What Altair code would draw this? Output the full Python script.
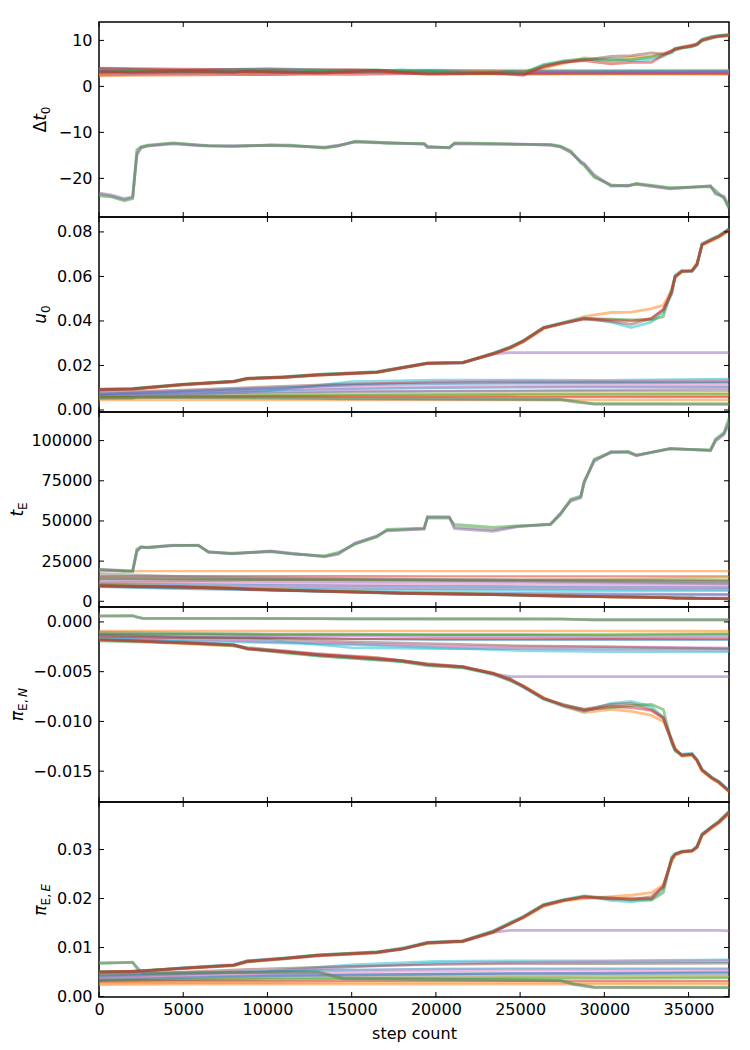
import altair as alt
import pandas as pd

# matplotlib tab10 colours
BLUE, ORANGE, GREEN, RED, PURPLE = "#1f77b4", "#ff7f0e", "#2ca02c", "#d62728", "#9467bd"
BROWN, PINK, GREY, OLIVE, CYAN = "#8c564b", "#e377c2", "#7f7f7f", "#bcbd22", "#17becf"

STEP_MAX = 37400
X_TICKS = [0, 5000, 10000, 15000, 20000, 25000, 30000, 35000]

# step grids the walkers were read on
FLAT_STEPS = [0, 5000, 10000, 15000, 20000, 25000, 30000, 37400]
CLUSTER_STEPS = [0, 2000, 5000, 8000, 8800, 11000, 13000, 16500, 18000, 19500,
                 21600, 23400, 24400, 25200, 26400, 27600, 28800, 30400, 31600, 32800,
                 33500, 34000, 34200, 34600, 35200, 35500, 35800, 36400, 36800, 37400]
STUCK_STEPS = [0, 700, 1500, 2000, 2250, 2500, 2900, 4400, 5900, 6500,
               7900, 10200, 11400, 13400, 14200, 15200, 16500, 17100, 19300, 19500,
               20800, 21100, 23400, 24800, 26800, 27400, 28000, 28600, 28800, 29400,
               30400, 31400, 31900, 33900, 36300, 36600, 37100, 37400]
STUCK_SHORT_STEPS = [0, 2000, 2300, 2600, 13000, 14500, 27400, 28200, 29400, 37400]

CLUSTER_COLORS = [PURPLE, ORANGE, CYAN, GREEN, BROWN, RED]

# ---------------- delta t0
DT0_TICKS = [-20, -10, 0, 10]
DT0_BG_COLORS = [BLUE, ORANGE, GREEN, RED, PURPLE, BROWN, PINK, GREY,
                 OLIVE, CYAN, BLUE, ORANGE, CYAN, PINK, PURPLE, RED]
DT0_BG = [
    [3.3, 3.1, 3.4, 3.2, 3.0, 3.2, 3.1, 3.2],
    [2.6, 2.8, 2.5, 2.9, 2.7, 2.6, 2.7, 2.8],
    [3.6, 3.4, 3.7, 3.3, 3.5, 3.3, 3.4, 3.3],
    [3.9, 3.5, 3.8, 3.4, 3.2, 3.0, 2.9, 3.0],
    [3.0, 3.2, 2.9, 3.1, 3.0, 3.1, 3.2, 3.0],
    [2.4, 2.7, 2.5, 3.0, 2.8, 2.9, 2.8, 2.9],
    [3.5, 3.3, 3.1, 3.4, 3.3, 3.4, 3.3, 3.2],
    [2.8, 3.0, 3.2, 2.9, 2.9, 2.7, 2.8, 2.9],
    [2.9, 3.1, 3.0, 3.2, 3.3, 3.6, 3.5, 3.6],
    [3.8, 3.6, 3.9, 3.5, 3.6, 3.2, 3.3, 3.4],
    [3.1, 3.3, 3.2, 3.0, 3.1, 3.0, 3.1, 3.1],
    [2.3, 2.4, 2.6, 2.5, 2.8, 2.8, 2.7, 2.6],
    [3.2, 3.5, 3.3, 3.6, 3.4, 3.1, 3.2, 3.3],
    [2.7, 2.5, 2.8, 2.6, 2.9, 3.0, 3.1, 3.0],
    [3.4, 3.6, 3.5, 3.3, 3.2, 3.3, 3.2, 3.3],
    [4.0, 3.8, 3.6, 3.7, 3.1, 2.8, 2.9, 2.8],
]
DT0_CLUSTER = [
    [3.1, 3.2, 3.0, 3.3, 3.2, 3.0, 3.1, 3.2, 2.9, 3.0, 3.1, 3.0, 3.0, 3.1, 3.0,
     3.1, 3.0, 3.0, 3.1, 3.0, 3.0, 3.1, 3.0, 3.0, 3.1, 3.0, 3.0, 3.0, 3.1, 3.0],
    [2.8, 3.3, 3.1, 3.5, 2.9, 3.4, 3.2, 3.1, 3.3, 3.0, 3.2, 3.3, 3.0, 3.1, 4.0,
     5.0, 6.2, 5.8, 6.3, 6.6, 7.2, 7.6, 8.0, 8.6, 9.0, 9.2, 10.2, 10.8, 11.0, 11.2],
    [3.6, 3.2, 3.0, 3.3, 3.6, 3.3, 3.5, 3.2, 3.6, 3.1, 2.9, 3.1, 2.8, 2.9, 4.8,
     5.4, 5.8, 6.0, 5.6, 5.9, 6.5, 7.5, 8.3, 8.5, 8.6, 9.2, 10.3, 10.9, 11.1, 11.3],
    [3.0, 3.5, 3.3, 3.1, 3.4, 3.0, 3.3, 3.6, 3.2, 3.3, 3.0, 2.8, 3.2, 3.0, 4.6,
     5.6, 6.0, 5.5, 5.8, 6.4, 6.9, 7.3, 7.9, 8.3, 8.7, 9.1, 9.9, 10.5, 10.9, 11.1],
    [3.4, 3.1, 3.2, 3.4, 3.1, 3.2, 2.9, 3.3, 3.1, 2.8, 2.9, 3.0, 2.9, 2.7, 4.2,
     5.3, 5.7, 6.5, 6.7, 7.3, 7.0, 7.7, 8.2, 8.5, 8.9, 9.3, 10.1, 10.7, 11.0, 11.2],
    [3.2, 3.0, 3.4, 3.0, 3.3, 3.1, 3.0, 3.4, 3.0, 2.6, 2.7, 2.9, 2.6, 2.4, 4.4,
     5.2, 5.6, 4.9, 5.2, 5.2, 6.8, 7.8, 8.1, 8.4, 8.8, 9.0, 10.0, 10.6, 10.8, 11.0],
]
DT0_STUCK_COLORS = [PURPLE, GREEN, GREY]
DT0_STUCK = [
    [-23.2, -23.6, -24.4, -24.0, -15.0, -13.4, -13.0, -12.5, -12.9, -13.0,
     -12.9, -12.9, -13.0, -13.2, -12.8, -12.1, -12.3, -12.2, -12.6, -13.3,
     -13.2, -12.5, -12.6, -12.5, -12.8, -13.2, -14.4, -16.3, -16.8, -19.2,
     -21.7, -21.5, -21.3, -22.3, -21.6, -23.4, -23.9, -26.0],
    [-23.8, -24.0, -24.9, -24.4, -13.8, -13.1, -12.8, -12.3, -12.7, -12.9,
     -13.1, -12.7, -12.8, -13.4, -13.0, -11.9, -12.1, -12.4, -12.4, -13.0,
     -13.4, -12.3, -12.4, -12.6, -12.6, -13.0, -14.0, -16.6, -17.2, -19.8,
     -21.4, -21.7, -21.1, -22.0, -21.8, -22.6, -24.4, -26.6],
    [-23.4, -23.8, -24.6, -24.1, -14.5, -13.3, -12.9, -12.4, -12.8, -12.9,
     -13.0, -12.8, -12.9, -13.3, -12.9, -12.0, -12.2, -12.3, -12.5, -13.2,
     -13.3, -12.4, -12.5, -12.6, -12.7, -13.1, -14.2, -16.5, -16.9, -19.5,
     -21.6, -21.6, -21.2, -22.2, -21.7, -23.2, -24.1, -26.3],
]

# ---------------- u0
U0_TICKS = [0.0, 0.02, 0.04, 0.06, 0.08]
U0_BG_COLORS = [CYAN, PINK, BROWN, BLUE, PINK, PURPLE, GREY, OLIVE, GREEN, ORANGE, RED, ORANGE, BLUE]
U0_BG = [
    [0.0062, 0.0068, 0.0085, 0.0128, 0.0135, 0.0135, 0.0134, 0.0139],
    [0.0070, 0.0080, 0.0095, 0.0115, 0.0128, 0.0132, 0.0131, 0.0134],
    [0.0080, 0.0090, 0.0105, 0.0118, 0.0124, 0.0126, 0.0126, 0.0127],
    [0.0068, 0.0078, 0.0088, 0.0095, 0.0100, 0.0102, 0.0103, 0.0104],
    [0.0075, 0.0085, 0.0095, 0.0102, 0.0106, 0.0108, 0.0110, 0.0112],
    [0.0065, 0.0072, 0.0080, 0.0084, 0.0086, 0.0087, 0.0090, 0.0095],
    [0.0060, 0.0068, 0.0074, 0.0080, 0.0083, 0.0084, 0.0085, 0.0086],
    [0.0058, 0.0062, 0.0066, 0.0070, 0.0072, 0.0073, 0.0074, 0.0076],
    [0.0055, 0.0060, 0.0064, 0.0067, 0.0069, 0.0070, 0.0070, 0.0071],
    [0.0052, 0.0056, 0.0059, 0.0061, 0.0062, 0.0063, 0.0063, 0.0063],
    [0.0058, 0.0060, 0.0061, 0.0060, 0.0059, 0.0058, 0.0058, 0.0058],
    [0.0045, 0.0045, 0.0045, 0.0045, 0.0045, 0.0045, 0.0045, 0.0045],
    [0.0072, 0.0085, 0.0098, 0.0112, 0.0118, 0.0120, 0.0121, 0.0123],
]
U0_CLUSTER = [
    [0.0091, 0.0094, 0.0114, 0.0127, 0.0141, 0.0147, 0.0157, 0.0169, 0.0189, 0.0209,
     0.0212, 0.0252, 0.0258, 0.0258, 0.0258, 0.0258, 0.0258, 0.0258, 0.0258, 0.0258,
     0.0258, 0.0258, 0.0258, 0.0258, 0.0258, 0.0258, 0.0258, 0.0258, 0.0258, 0.0258],
    [0.0088, 0.0094, 0.0112, 0.0126, 0.0138, 0.0146, 0.0156, 0.0168, 0.0188, 0.0208,
     0.0215, 0.0250, 0.0276, 0.0305, 0.0365, 0.0392, 0.0420, 0.0438, 0.0440, 0.0455,
     0.0470, 0.0540, 0.0595, 0.0620, 0.0628, 0.0660, 0.0740, 0.0760, 0.0776, 0.0805],
    [0.0090, 0.0096, 0.0114, 0.0130, 0.0140, 0.0150, 0.0160, 0.0172, 0.0192, 0.0212,
     0.0212, 0.0256, 0.0284, 0.0312, 0.0372, 0.0395, 0.0415, 0.0395, 0.0370, 0.0395,
     0.0440, 0.0520, 0.0605, 0.0628, 0.0622, 0.0650, 0.0748, 0.0770, 0.0784, 0.0815],
    [0.0094, 0.0097, 0.0116, 0.0130, 0.0143, 0.0149, 0.0160, 0.0171, 0.0191, 0.0211,
     0.0214, 0.0254, 0.0282, 0.0312, 0.0370, 0.0392, 0.0412, 0.0408, 0.0405, 0.0405,
     0.0420, 0.0545, 0.0600, 0.0622, 0.0626, 0.0656, 0.0742, 0.0768, 0.0782, 0.0812],
    [0.0091, 0.0094, 0.0114, 0.0127, 0.0141, 0.0147, 0.0157, 0.0169, 0.0189, 0.0209,
     0.0212, 0.0252, 0.0279, 0.0309, 0.0368, 0.0389, 0.0408, 0.0398, 0.0385, 0.0412,
     0.0452, 0.0528, 0.0598, 0.0623, 0.0624, 0.0652, 0.0745, 0.0765, 0.0779, 0.0809],
    [0.0092, 0.0095, 0.0115, 0.0128, 0.0142, 0.0148, 0.0158, 0.0170, 0.0190, 0.0210,
     0.0213, 0.0253, 0.0280, 0.0310, 0.0370, 0.0390, 0.0410, 0.0405, 0.0400, 0.0410,
     0.0450, 0.0530, 0.0600, 0.0624, 0.0625, 0.0654, 0.0744, 0.0766, 0.0780, 0.0811],
]
U0_STUCK_COLORS = [GREEN, GREY]
U0_STUCK = [
    [0.0055, 0.0055, 0.0058, 0.0058, 0.0054, 0.0052, 0.0048, 0.0040, 0.0028, 0.0027],
    [0.0052, 0.0053, 0.0057, 0.0057, 0.0052, 0.0050, 0.0046, 0.0036, 0.0027, 0.0026],
]

# ---------------- tE
TE_TICKS = [0, 25000, 50000, 75000, 100000]
TE_BG_COLORS = [ORANGE, RED, OLIVE, GREY, PURPLE, PINK, BLUE, CYAN, GREEN, BROWN, CYAN, BLUE, PINK, GREY]
TE_BG = [
    [18800, 18800, 18800, 18800, 18800, 18800, 18800, 18800],
    [15500, 15600, 15700, 15600, 15500, 15500, 15500, 15500],
    [11500, 12500, 13500, 13800, 13600, 13400, 13600, 15000],
    [15800, 15200, 14400, 13800, 13100, 12600, 12000, 11000],
    [13000, 12800, 12500, 12200, 12000, 11600, 11200, 10800],
    [12000, 11600, 11200, 10800, 10500, 10100, 9800, 9500],
    [11000, 10500, 10000, 9600, 9300, 9000, 8700, 8400],
    [10500, 9200, 8400, 8000, 7800, 7600, 7400, 7300],
    [14500, 14000, 13500, 13200, 13000, 12800, 12600, 12500],
    [14000, 13800, 13600, 13500, 13500, 13400, 13400, 13300],
    [9500, 8500, 7800, 7200, 6900, 6700, 6600, 6500],
    [9000, 7800, 6800, 6000, 5400, 5000, 4700, 4400],
    [10000, 9500, 9000, 8600, 8300, 8000, 7800, 7600],
    [17300, 15500, 14800, 14200, 13700, 13200, 12800, 12200],
]
TE_CLUSTER = [
    [9700, 9200, 8800, 8000, 7600, 6900, 6400, 5400, 5000, 4800, 4500, 4200, 4000, 4000, 4000,
     3950, 3950, 3900, 3900, 3900, 3900, 3900, 3900, 3900, 3900, 3850, 3850, 3850, 3850, 3850],
    [10200, 9700, 9200, 8300, 7900, 7200, 6600, 5700, 5300, 5000, 4700, 4400, 4200, 4000, 3600,
     3400, 3000, 2700, 2600, 2400, 2300, 2100, 2000, 1950, 1900, 1850, 1800, 1750, 1700, 1650],
    [9400, 9000, 8600, 7800, 7400, 6700, 6200, 5300, 4900, 4600, 4400, 4100, 3900, 3700, 3400,
     3200, 3100, 2900, 2800, 2500, 2350, 2150, 2050, 2000, 1950, 1900, 1800, 1750, 1700, 1650],
    [10000, 9500, 9000, 8100, 7700, 7000, 6500, 5500, 5100, 4900, 4600, 4300, 4100, 3900, 3500,
     3300, 3100, 2800, 2700, 2500, 2300, 2100, 2050, 2000, 1900, 1850, 1800, 1750, 1700, 1650],
    [9600, 9200, 8800, 7900, 7500, 6800, 6300, 5350, 4950, 4700, 4450, 4150, 3950, 3750, 3450,
     3250, 3050, 2750, 2600, 2400, 2250, 2100, 2000, 1950, 1900, 1850, 1750, 1700, 1650, 1600],
    [9800, 9300, 8900, 8000, 7600, 6900, 6400, 5400, 5000, 4800, 4500, 4200, 4000, 3800, 3500,
     3300, 3100, 2800, 2600, 2400, 2300, 2100, 2050, 2000, 1900, 1850, 1800, 1750, 1700, 1650],
]
TE_STUCK_COLORS = [PURPLE, GREEN, GREY]
TE_STUCK = [
    [19500, 19600, 19200, 19000, 30800, 33600, 33700, 35000, 34700, 30900,
     29500, 31300, 29900, 27700, 29400, 36200, 40800, 43900, 44900, 52700,
     52600, 45200, 43600, 46300, 48100, 55000, 62300, 64400, 74800, 87200,
     93100, 92700, 90600, 95200, 93700, 99600, 103800, 110500],
    [19900, 19300, 18700, 18600, 32500, 33900, 33200, 34600, 34900, 30500,
     29900, 30900, 29500, 28300, 30400, 35500, 40100, 44700, 45500, 51900,
     51800, 47800, 46000, 46900, 47700, 54000, 63500, 65500, 73500, 88500,
     92500, 93200, 91000, 94800, 94200, 101000, 104900, 114000],
    [19700, 19400, 19000, 18800, 31700, 33800, 33500, 34800, 34800, 30700,
     29700, 31100, 29700, 28000, 29700, 35900, 40500, 44200, 45200, 52400,
     52400, 46200, 44500, 46600, 47900, 54500, 62800, 64900, 74200, 87700,
     92900, 92900, 90800, 95000, 93900, 100100, 104300, 111500],
]

# ---------------- pi_E,N
PEN_TICKS = [0.0, -0.005, -0.010, -0.015]
PEN_BG_COLORS = [ORANGE, OLIVE, GREY, PURPLE, BLUE, PINK, CYAN, PINK, GREEN, RED, CYAN, BROWN]
PEN_BG = [
    [-0.0009, -0.0009, -0.0009, -0.0009, -0.0009, -0.0009, -0.0009, -0.0009],
    [-0.0011, -0.0012, -0.0012, -0.0012, -0.0012, -0.0012, -0.0012, -0.0011],
    [-0.0010, -0.0011, -0.0012, -0.0012, -0.0013, -0.0013, -0.0014, -0.0013],
    [-0.0012, -0.0013, -0.0014, -0.0014, -0.0015, -0.0015, -0.0016, -0.0015],
    [-0.0013, -0.0015, -0.0016, -0.0017, -0.0018, -0.0018, -0.0018, -0.0018],
    [-0.0014, -0.0017, -0.0020, -0.0022, -0.0024, -0.0025, -0.0025, -0.0026],
    [-0.0015, -0.0016, -0.0018, -0.0026, -0.0027, -0.0027, -0.0027, -0.0027],
    [-0.0016, -0.0018, -0.0020, -0.0022, -0.0025, -0.0027, -0.0028, -0.0029],
    [-0.0012, -0.0012, -0.0013, -0.0013, -0.0013, -0.0013, -0.0013, -0.0012],
    [-0.0015, -0.0016, -0.0016, -0.0017, -0.0017, -0.0017, -0.0017, -0.0017],
    [-0.0017, -0.0019, -0.0021, -0.0023, -0.0026, -0.0029, -0.0030, -0.0030],
    [-0.0013, -0.0015, -0.0017, -0.0020, -0.0022, -0.0024, -0.0025, -0.0027],
]
PEN_CLUSTER = [
    [-0.0017, -0.0018, -0.0020, -0.0023, -0.0026, -0.0029, -0.0032, -0.0036, -0.0039, -0.0043,
     -0.0045, -0.0052, -0.0055, -0.0055, -0.0055, -0.0055, -0.0055, -0.0055, -0.0055, -0.0055,
     -0.0055, -0.0055, -0.0055, -0.0055, -0.0055, -0.0055, -0.0055, -0.0055, -0.0055, -0.0055],
    [-0.0017, -0.0019, -0.0022, -0.0024, -0.0026, -0.0029, -0.0033, -0.0036, -0.0040, -0.0044,
     -0.0046, -0.0051, -0.0059, -0.0064, -0.0076, -0.0085, -0.0091, -0.0088, -0.0090, -0.0094,
     -0.0100, -0.0118, -0.0127, -0.0135, -0.0134, -0.0140, -0.0150, -0.0158, -0.0162, -0.0171],
    [-0.0016, -0.0018, -0.0020, -0.0023, -0.0026, -0.0030, -0.0034, -0.0038, -0.0040, -0.0044,
     -0.0046, -0.0053, -0.0059, -0.0066, -0.0078, -0.0085, -0.0090, -0.0082, -0.0080, -0.0085,
     -0.0096, -0.0122, -0.0130, -0.0133, -0.0132, -0.0138, -0.0148, -0.0156, -0.0160, -0.0169],
    [-0.0019, -0.0020, -0.0021, -0.0024, -0.0027, -0.0031, -0.0034, -0.0038, -0.0040, -0.0043,
     -0.0046, -0.0052, -0.0058, -0.0065, -0.0077, -0.0084, -0.0088, -0.0086, -0.0084, -0.0083,
     -0.0088, -0.0121, -0.0129, -0.0134, -0.0133, -0.0139, -0.0149, -0.0157, -0.0161, -0.0170],
    [-0.0018, -0.0019, -0.0021, -0.0023, -0.0027, -0.0030, -0.0033, -0.0037, -0.0039, -0.0042,
     -0.0045, -0.0052, -0.0057, -0.0065, -0.0077, -0.0083, -0.0088, -0.0083, -0.0082, -0.0088,
     -0.0096, -0.0119, -0.0128, -0.0134, -0.0133, -0.0139, -0.0149, -0.0157, -0.0161, -0.0170],
    [-0.0018, -0.0019, -0.0021, -0.0023, -0.0027, -0.0030, -0.0033, -0.0037, -0.0039, -0.0043,
     -0.0045, -0.0052, -0.0058, -0.0065, -0.0077, -0.0084, -0.0089, -0.0085, -0.0086, -0.0089,
     -0.0097, -0.0120, -0.0128, -0.0134, -0.0133, -0.0139, -0.0149, -0.0157, -0.0161, -0.0170],
]
PEN_STUCK_COLORS = [GREEN, GREY]
PEN_STUCK = [
    [0.00058, 0.00062, 0.00048, 0.00036, 0.00034, 0.00031, 0.00029, 0.00025, 0.00021, 0.00021],
    [0.00060, 0.00060, 0.00045, 0.00035, 0.00033, 0.00032, 0.00030, 0.00026, 0.00022, 0.00022],
]

# ---------------- pi_E,E
PEE_TICKS = [0.0, 0.01, 0.02, 0.03]
PEE_BG_COLORS = [CYAN, CYAN, PINK, BROWN, BLUE, PINK, PURPLE, GREY, OLIVE, GREEN, RED, ORANGE, ORANGE, BLUE]
PEE_BG = [
    [0.0045, 0.0048, 0.0052, 0.0065, 0.0072, 0.0073, 0.0073, 0.0075],
    [0.0042, 0.0046, 0.0050, 0.0060, 0.0069, 0.0070, 0.0070, 0.0071],
    [0.0040, 0.0045, 0.0052, 0.0060, 0.0066, 0.0070, 0.0072, 0.0074],
    [0.0044, 0.0050, 0.0057, 0.0062, 0.0065, 0.0067, 0.0067, 0.0068],
    [0.0040, 0.0046, 0.0051, 0.0054, 0.0056, 0.0057, 0.0057, 0.0057],
    [0.0038, 0.0043, 0.0047, 0.0050, 0.0052, 0.0053, 0.0053, 0.0054],
    [0.0036, 0.0040, 0.0043, 0.0045, 0.0046, 0.0047, 0.0048, 0.0050],
    [0.0032, 0.0035, 0.0038, 0.0040, 0.0042, 0.0042, 0.0043, 0.0043],
    [0.0035, 0.0036, 0.0037, 0.0038, 0.0038, 0.0039, 0.0039, 0.0040],
    [0.0033, 0.0034, 0.0035, 0.0036, 0.0037, 0.0037, 0.0037, 0.0038],
    [0.0030, 0.0031, 0.0031, 0.0032, 0.0032, 0.0032, 0.0032, 0.0032],
    [0.0027, 0.0028, 0.0028, 0.0029, 0.0029, 0.0029, 0.0029, 0.0029],
    [0.0024, 0.0025, 0.0025, 0.0025, 0.0025, 0.0025, 0.0025, 0.0025],
    [0.0034, 0.0038, 0.0042, 0.0044, 0.0046, 0.0047, 0.0047, 0.0048],
]
PEE_CLUSTER = [
    [0.0049, 0.0050, 0.0057, 0.0063, 0.0071, 0.0077, 0.0083, 0.0089, 0.0096, 0.0109,
     0.0112, 0.0131, 0.0135, 0.0135, 0.0135, 0.0135, 0.0135, 0.0135, 0.0135, 0.0135,
     0.0135, 0.0135, 0.0135, 0.0135, 0.0135, 0.0135, 0.0135, 0.0135, 0.0135, 0.0134],
    [0.0048, 0.0052, 0.0057, 0.0063, 0.0070, 0.0077, 0.0083, 0.0089, 0.0098, 0.0108,
     0.0112, 0.0130, 0.0150, 0.0160, 0.0184, 0.0195, 0.0200, 0.0204, 0.0207, 0.0212,
     0.0228, 0.0275, 0.0288, 0.0294, 0.0296, 0.0303, 0.0328, 0.0344, 0.0354, 0.0372],
    [0.0049, 0.0050, 0.0059, 0.0065, 0.0073, 0.0079, 0.0085, 0.0091, 0.0099, 0.0111,
     0.0114, 0.0134, 0.0151, 0.0164, 0.0188, 0.0198, 0.0206, 0.0196, 0.0193, 0.0198,
     0.0220, 0.0285, 0.0292, 0.0296, 0.0298, 0.0307, 0.0332, 0.0348, 0.0358, 0.0378],
    [0.0051, 0.0052, 0.0058, 0.0064, 0.0071, 0.0078, 0.0085, 0.0091, 0.0097, 0.0109,
     0.0113, 0.0133, 0.0149, 0.0163, 0.0187, 0.0197, 0.0204, 0.0200, 0.0198, 0.0197,
     0.0212, 0.0283, 0.0291, 0.0296, 0.0298, 0.0306, 0.0331, 0.0347, 0.0357, 0.0377],
    [0.0050, 0.0051, 0.0058, 0.0064, 0.0072, 0.0078, 0.0084, 0.0090, 0.0097, 0.0110,
     0.0113, 0.0132, 0.0148, 0.0162, 0.0186, 0.0196, 0.0204, 0.0202, 0.0197, 0.0204,
     0.0224, 0.0280, 0.0290, 0.0295, 0.0297, 0.0305, 0.0330, 0.0346, 0.0356, 0.0375],
    [0.0050, 0.0051, 0.0058, 0.0064, 0.0072, 0.0078, 0.0084, 0.0090, 0.0097, 0.0110,
     0.0113, 0.0132, 0.0148, 0.0162, 0.0186, 0.0196, 0.0203, 0.0199, 0.0201, 0.0200,
     0.0225, 0.0280, 0.0290, 0.0295, 0.0297, 0.0305, 0.0330, 0.0346, 0.0356, 0.0376],
]
PEE_STUCK_COLORS = [GREEN, GREY]
PEE_STUCK = [
    [0.0067, 0.0070, 0.0058, 0.0048, 0.0050, 0.0036, 0.0033, 0.0026, 0.0019, 0.0018],
    [0.0069, 0.0069, 0.0055, 0.0047, 0.0049, 0.0038, 0.0032, 0.0024, 0.0018, 0.0018],
]

W, H = 630, 195
TICK = 5
FONT = "DejaVu Sans"


def walkers(tag, steps, series, colors):
    rows = []
    for i, (vals, col) in enumerate(zip(series, colors)):
        for s, v in zip(steps, vals):
            rows.append({"walker": f"{tag}{i}", "color": col, "step": s, "value": v})
    return pd.DataFrame(rows)


def panel(bg, bg_colors, cluster, stuck, stuck_steps, stuck_colors,
          domain, ticks, fmt, title, title_x, bottom=False):
    x_scale = alt.Scale(domain=[0, STEP_MAX], nice=False, zero=False)
    y_scale = alt.Scale(domain=domain, nice=False, zero=False)

    # same axis object on every layer, so the merged axis keeps these settings
    y_axis = alt.Axis(values=ticks, format=fmt, ticks=False, tickSize=0, domain=False,
                      grid=False, labelPadding=7, labelFlush=False, title=None)
    if bottom:
        x_axis = alt.Axis(values=X_TICKS, format="d", ticks=False, tickSize=0, domain=False,
                          grid=False, labelPadding=4, labelFlush=False, title="step count",
                          titlePadding=8, titleFontWeight="normal", titleFontSize=16)
    else:
        x_axis = None

    def lines(df, width):
        return alt.Chart(df).mark_line(strokeWidth=width, opacity=0.5, clip=True).encode(
            x=alt.X("step:Q", scale=x_scale, axis=x_axis),
            y=alt.Y("value:Q", scale=y_scale, axis=y_axis),
            detail="walker:N",
            color=alt.Color("color:N", scale=None),
        )

    layers = [
        lines(walkers("b", FLAT_STEPS, bg, bg_colors), 2.4),
        lines(walkers("s", stuck_steps, stuck, stuck_colors), 2.8),
        lines(walkers("c", CLUSTER_STEPS, cluster, CLUSTER_COLORS), 2.8),
    ]

    # inward ticks on all four sides
    yt = pd.DataFrame({"value": ticks})
    xt = pd.DataFrame({"step": X_TICKS})
    for x0, x1 in [(0, TICK), (W - TICK, W)]:
        layers.append(alt.Chart(yt).mark_rule(color="black", strokeWidth=1).encode(
            y=alt.Y("value:Q", scale=y_scale, axis=y_axis), x=alt.value(x0), x2=alt.value(x1)))
    for y0, y1 in [(0, TICK), (H - TICK, H)]:
        layers.append(alt.Chart(xt).mark_rule(color="black", strokeWidth=1).encode(
            x=alt.X("step:Q", scale=x_scale, axis=x_axis), y=alt.value(y0), y2=alt.value(y1)))

    # axis title built from pieces (symbol + subscript), rotated
    main_w, sub_w, parts = title
    anchor = H / 2 - (main_w - sub_w) / 2
    for text, size, style, align, dx, dy in parts:
        layers.append(alt.Chart(pd.DataFrame({"t": [text]})).mark_text(
            angle=270, align=align, baseline="alphabetic", font=FONT, fontSize=size,
            fontStyle=style, dx=dx, dy=dy, color="black",
        ).encode(text="t:N", x=alt.value(title_x), y=alt.value(anchor)))

    return alt.layer(*layers).properties(width=W, height=H)


T_DT0 = (18.3, 7.6, [("Δ", 17, "normal", "right", -6.7, 0), ("t", 17, "italic", "right", 0, 0),
                     ("0", 12, "normal", "left", 0, 4)])
T_U0 = (10.8, 7.6, [("u", 17, "italic", "right", 0, 0), ("0", 12, "normal", "left", 0, 4)])
T_TE = (6.7, 7.6, [("t", 17, "italic", "right", 0, 0), ("E", 12, "normal", "left", 0, 4)])
T_PEN = (10.2, 23.0, [("π", 17, "italic", "right", 0, 0), ("E,", 12, "normal", "left", 0, 4),
                      ("N", 12, "italic", "left", 14, 4)])
T_PEE = (10.2, 22.0, [("π", 17, "italic", "right", 0, 0), ("E,", 12, "normal", "left", 0, 4),
                      ("E", 12, "italic", "left", 14, 4)])

p1 = panel(DT0_BG, DT0_BG_COLORS, DT0_CLUSTER, DT0_STUCK, STUCK_STEPS, DT0_STUCK_COLORS,
           [-28.4, 14.0], DT0_TICKS, "d", T_DT0, -53)
p2 = panel(U0_BG, U0_BG_COLORS, U0_CLUSTER, U0_STUCK, STUCK_SHORT_STEPS, U0_STUCK_COLORS,
           [-0.0009, 0.0867], U0_TICKS, ".2f", T_U0, -53)
p3 = panel(TE_BG, TE_BG_COLORS, TE_CLUSTER, TE_STUCK, STUCK_STEPS, TE_STUCK_COLORS,
           [-3540, 117800], TE_TICKS, "d", T_TE, -76)
p4 = panel(PEN_BG, PEN_BG_COLORS, PEN_CLUSTER, PEN_STUCK, STUCK_SHORT_STEPS, PEN_STUCK_COLORS,
           [-0.0181, 0.0015], PEN_TICKS, ".3f", T_PEN, -76)
p5 = panel(PEE_BG, PEE_BG_COLORS, PEE_CLUSTER, PEE_STUCK, STUCK_SHORT_STEPS, PEE_STUCK_COLORS,
           [-0.0001, 0.0397], PEE_TICKS, ".2f", T_PEE, -53, bottom=True)

chart = (
    alt.vconcat(p1, p2, p3, p4, p5, spacing=0, bounds="flush")
    .properties(
        padding={"left": 0, "top": 12, "right": 10, "bottom": 10},
        background="white",
    )
    .configure_view(stroke="black", strokeWidth=1.5)
    .configure_axis(labelFont=FONT, labelFontSize=16, labelColor="black",
                    titleFont=FONT, titleColor="black")
)

chart.save("out.html", embed_options={"renderer": "svg", "actions": False})
